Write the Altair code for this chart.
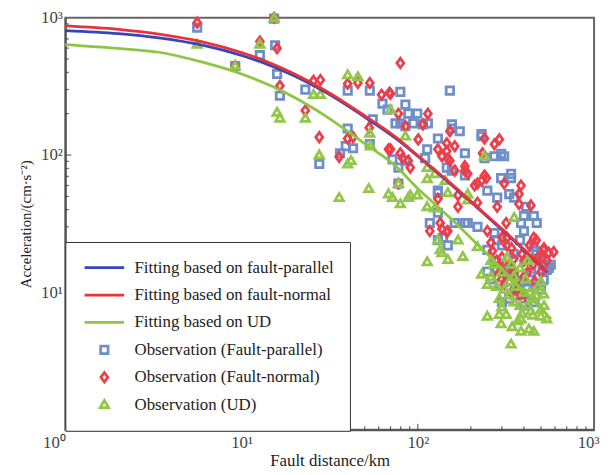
import altair as alt
import pandas as pd

# ---------------- data ----------------
SERIES = [
    "Fitting based on fault-parallel",
    "Fitting based on fault-normal",
    "Fitting based on UD",
    "Observation (Fault-parallel)",
    "Observation (Fault-normal)",
    "Observation (UD)",
]
COLORS = ["#3346c0", "#e8333a", "#8dc63f", "#6f8fcb", "#ec3f4c", "#93c64a"]
SHAPES = [
    "M-4,0L4,0",
    "M-4,0L4,0",
    "M-4,0L4,0",
    "M-0.75,-0.75L0.75,-0.75L0.75,0.75L-0.75,0.75Z",
    "M0,-0.95L0.7,0L0,0.95L-0.7,0Z",
    "M0,-0.85L0.85,0.6L-0.85,0.6Z",
]
WIDTHS = [2.8, 2.8, 2, 1.2, 1.2, 1.2]

fit_R = [1, 2, 3.4, 6, 10, 15, 20, 30, 50, 75, 100, 150, 200, 300, 400, 545]
fit_par_A = [805, 765, 712, 630, 530, 442, 376, 286, 189, 132, 98, 63, 45.5, 28.5, 20.4, 14.1]
fit_nor_A = [871, 822, 760, 667, 557, 460, 389, 294, 193, 135, 99, 64, 46, 29, 20.6, 14.2]
fit_ud_R = [1, 2, 3.4, 6, 10, 15, 20, 30, 50, 75, 100, 150, 200, 300, 400, 570]
fit_ud_A = [637, 597, 560, 474, 389, 315, 262, 192, 121, 83, 57, 35.5, 24.9, 14.8, 10.2, 6.4]

par_R = [5.6, 9.2, 15.3, 15.5, 12.7, 15.9, 16.5, 23, 40, 53.4, 79.6, 40, 42.9, 39, 53.4, 27.6,
         36.2, 63, 67.3, 55.5, 71.8, 77.6, 152, 85, 88.3, 99.3, 79.6, 94.2, 114, 156, 173, 230,
         130, 185, 113, 85, 110, 239, 146, 185, 130, 272, 309, 156, 248, 297, 338, 330, 352,
         282, 411, 400, 455, 473, 385, 130, 148, 162, 192, 218, 272, 282, 400, 455, 499, 568,
         248, 248, 553, 518, 74.7, 85, 107, 156, 230, 297, 338, 77.6, 130, 185, 139, 117, 130,
         539, 272, 309, 352, 290, 375, 330, 427, 400, 455, 320, 260, 480,
         300, 350, 420, 380, 470, 510, 440, 360, 300, 400, 330, 280, 500, 460, 420]
par_A = [847, 444, 985, 630, 533, 389, 270, 299, 294, 294, 288, 156, 112, 116, 120, 86,
         103, 237, 214, 182, 93, 62, 294, 233, 200, 200, 170, 170, 170, 167, 149, 142,
         132, 103, 110, 91, 95, 95, 81, 71, 55, 98, 98, 77, 55, 68, 68, 52, 49,
         49, 42, 36, 36, 32, 32, 24, 22, 32, 32, 30, 27, 24, 28, 21.4, 17.3, 15.9,
         20.4, 14.2, 15.1, 12.4, 170, 162, 167, 156, 137, 102, 73, 81, 53, 32, 25, 32, 38,
         14.6, 17, 14.6, 13.5, 11.4, 10.5, 9.0, 9.7, 12, 11, 16, 12.5, 13,
         22, 19, 17, 24, 20, 16, 14, 9.5, 8.5, 8, 12, 15, 10.5, 8.5, 11]

nor_R = [5.6, 9.2, 15.3, 12.7, 15.9, 16.5, 23, 25.6, 28, 27.6, 35.8, 40, 45.7, 53.4, 62.3,
         69, 79.6, 40, 42.9, 53, 68.2, 77.6, 70, 114, 107, 85, 152, 239, 146, 146, 162, 130,
         100.5, 70, 79.6, 90.6, 233, 152, 162, 185, 239, 230, 77.6, 130, 210, 137, 148, 185,
         192, 245, 218, 309, 385, 375, 375, 169, 169, 218, 282, 438, 317, 134, 148, 248, 321,
         455, 518, 553, 590, 290, 272, 117, 137, 146, 88.3, 82, 505,
         265, 300, 330, 350, 280, 310, 360, 400, 420, 340, 290, 380, 450, 480, 260, 320,
         300, 340, 390, 430, 470, 520, 540, 310, 370, 420, 460, 500, 350, 280, 400]
nor_A = [920, 444, 1000, 671, 598, 319, 211, 347, 352, 135, 97, 330, 335, 335, 275,
         284, 467, 132, 135, 158, 110, 200, 279, 200, 167, 162, 149, 132, 122, 107, 116, 110,
         130, 110, 103, 81, 103, 91, 77, 77, 71, 65, 62, 48, 60, 98, 94, 83,
         73, 68, 62, 62, 60, 52, 44, 51, 42, 45, 42, 43, 32, 32, 28, 28, 25,
         25, 20.4, 19.4, 19.7, 130, 120, 28, 29, 27.5, 91, 95, 18,
         20, 18, 16, 14, 13, 11.5, 12, 17, 14, 10, 15.5, 9.5, 16, 18, 23, 22,
         25, 21, 19, 22, 24, 21, 17, 13.5, 10.5, 9, 12, 14, 17.5, 17, 13]

ud_R = [5.6, 9.2, 15.3, 12.7, 15.9, 16.5, 25.6, 28, 23, 27.6, 40, 45.7, 35.8, 52.7, 68.2,
        40, 41.8, 53.4, 54, 70, 85, 113, 113, 143, 90.6, 99.3, 148, 192, 71.8, 239, 125,
        192, 352, 134, 169, 148, 180, 218, 137, 230, 248, 518, 248, 297, 343, 385, 427, 455,
        338, 385, 539, 438, 499, 290, 317, 79.6, 88.3, 113, 125, 130, 113, 77.6,
        270, 300, 330, 360, 400, 290, 350, 420, 480, 320, 380, 260, 450, 500, 310, 370,
        280, 330, 380, 430, 470, 520, 350, 410, 300, 450, 390, 340, 260, 500, 420]
ud_A = [640, 444, 990, 640, 204, 185, 275, 275, 185, 100, 383, 370, 49, 57, 52,
        86, 91, 144, 116, 214, 137, 81, 67, 65, 51, 51, 53, 52, 49, 98, 73,
        47, 35, 20.4, 24, 17.3, 18.2, 21.4, 19.4, 13.5, 11.4, 9.7, 6.7, 5.9, 5.6, 5.2, 5.4, 5.2,
        4.2, 6.4, 6.4, 7.3, 6.7, 6.9, 6.9, 44, 49, 42, 41, 24, 16.7, 62,
        16, 14, 12, 11, 10, 9, 8.5, 8, 11, 18, 15, 13, 9, 7.5, 10.5, 6.2,
        11, 9.5, 8, 10, 9.5, 8, 13, 12.5, 7.8, 6.8, 7, 16, 17, 12, 17]

x_major = [10, 100]
x_minor = [2, 3, 4, 5, 6, 7, 8, 9, 20, 30, 40, 50, 60, 70, 80, 90, 200, 300, 400, 500, 600, 700, 800, 900]
y_major = [10, 100]
y_minor = x_minor

# ---------------- tables ----------------
obs = pd.concat([
    pd.DataFrame({"R": par_R, "A": par_A, "series": SERIES[3]}),
    pd.DataFrame({"R": nor_R, "A": nor_A, "series": SERIES[4]}),
    pd.DataFrame({"R": ud_R, "A": ud_A, "series": SERIES[5]}),
], ignore_index=True)
fit_par = pd.DataFrame({"R": fit_R, "A": fit_par_A, "series": SERIES[0]})
fit_nor = pd.DataFrame({"R": fit_R, "A": fit_nor_A, "series": SERIES[1]})
fit_ud = pd.DataFrame({"R": fit_ud_R, "A": fit_ud_A, "series": SERIES[2]})

W, H = 535, 417
FONT = "Liberation Serif"

x_scale = alt.Scale(type="log", domain=[1, 1000], nice=False)
y_scale = alt.Scale(type="log", domain=[1, 1000], nice=False)

sup = ("datum.value == 1 ? '10\u2070' : datum.value == 10 ? '10\u00b9' : "
       "datum.value == 100 ? '10\u00b2' : '10\u00b3'")

x_axis = alt.Axis(
    title="Fault distance/km", values=[1, 10, 100, 1000], labelExpr=sup,
    grid=False, ticks=False, labelFlush=False, labelPadding=5, titlePadding=2,
    labelFontSize=17, titleFontSize=17,
    labelAlign={"condition": {"test": "datum.value == 1 || datum.value == 1000", "value": "right"},
                "value": "center"},
    labelOffset={"condition": {"test": "datum.value == 1000", "value": 5}, "value": 0},
)
y_axis = alt.Axis(
    title="Acceleration/(cm\u00b7s\u207b\u00b2)", values=[10, 100, 1000], labelExpr=sup,
    grid=False, ticks=False, labelPadding=3, titlePadding=7,
    labelFontSize=17, titleFontSize=15,
)

legend = alt.Legend(
    title=None, orient="none", legendX=0, legendY=227,
    fillColor="white", strokeColor="#333", padding=16,
    symbolSize=100, symbolOffset=15, labelOffset=22, clipHeight=20, rowPadding=7.7,
    labelFont=FONT, labelFontSize=17, labelColor="#222", labelLimit=400,
)

color = alt.Color("series:N", scale=alt.Scale(domain=SERIES, range=COLORS), legend=legend)
shape = alt.Shape("series:N", scale=alt.Scale(domain=SERIES, range=SHAPES), legend=legend)
swidth = alt.StrokeWidth("series:N", scale=alt.Scale(domain=SERIES, range=WIDTHS), legend=legend)

X = alt.X("R:Q", scale=x_scale, axis=x_axis)
Y = alt.Y("A:Q", scale=y_scale, axis=y_axis)

points = alt.Chart(obs).mark_point(filled=False, size=100, opacity=1).encode(
    x=X, y=Y, color=color, shape=shape, strokeWidth=swidth
)

def fit_line(df):
    return alt.Chart(df).mark_line(interpolate="monotone").encode(
        x=X, y=Y, color=color, strokeWidth=swidth
    )

line_ud = fit_line(fit_ud)
line_par = fit_line(fit_par)
line_nor = fit_line(fit_nor)

def xticks(vals, ln):
    return alt.Chart(pd.DataFrame({"R": vals})).mark_rule(color="#444", strokeWidth=1).encode(
        x=alt.X("R:Q", scale=x_scale), y=alt.value(H), y2=alt.value(H - ln)
    )

def yticks(vals, ln):
    return alt.Chart(pd.DataFrame({"A": vals})).mark_rule(color="#444", strokeWidth=1).encode(
        y=alt.Y("A:Q", scale=y_scale), x=alt.value(0), x2=alt.value(ln)
    )

chart = alt.layer(
    points, line_ud, line_par, line_nor,
    xticks(x_major, 6), xticks(x_minor, 3.5), yticks(y_major, 6), yticks(y_minor, 3.5),
).properties(
    width=W, height=H,
    padding={"left": 58, "top": 7, "right": 6, "bottom": 45},
    autosize=alt.AutoSizeParams(type="none"),
).configure_view(
    stroke="#666", strokeWidth=2
).configure_axis(
    domainColor="#555", domainWidth=2,
    labelFont=FONT, labelColor="#444",
    titleFont=FONT, titleFontWeight="normal", titleColor="#222",
)

chart.save("out.html", embed_options={"renderer": "svg", "actions": False})
